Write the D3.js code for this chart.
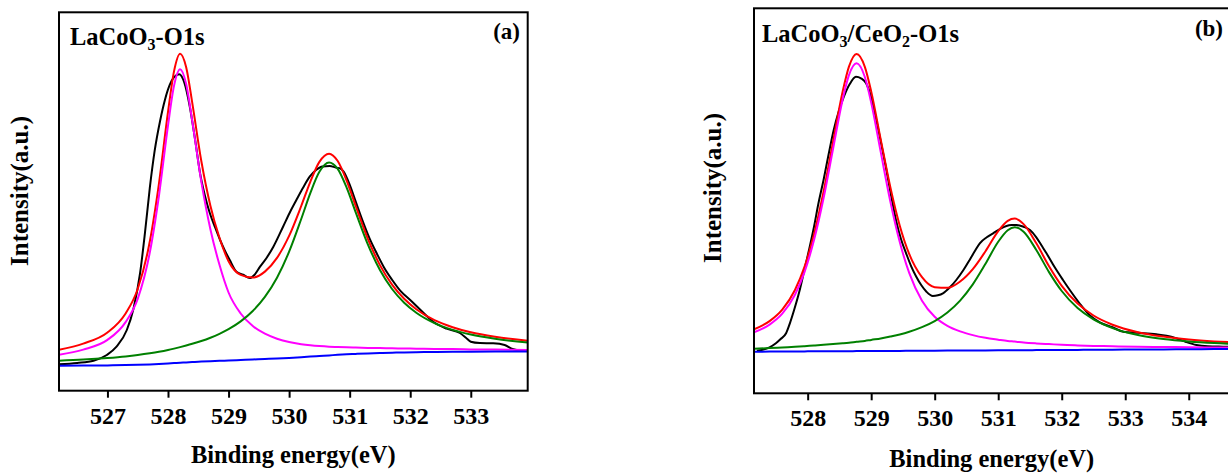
<!DOCTYPE html>
<html>
<head>
<meta charset="utf-8">
<script src="https://cdn.jsdelivr.net/npm/d3@7"></script>
<style>
  body { margin: 0; background: #fff; }
  svg text { font-family: "Liberation Serif", "Times New Roman", serif; font-weight: bold; fill: #000; }
</style>
</head>
<body>
<script>
// ---- panel (a): LaCoO3 O1s ----
const energyA = [526.2, 526.6, 527.0, 527.3, 527.5, 527.7, 527.85, 528.0, 528.1, 528.2, 528.3, 528.4, 528.55, 528.7, 528.85, 529.0, 529.2, 529.4, 529.6, 529.8, 530.0, 530.2, 530.35, 530.5, 530.66, 530.8, 530.95, 531.1, 531.3, 531.5, 531.7, 531.9, 532.1, 532.4, 532.7, 533.0, 533.4, 533.94];
const blueA = [25.0, 25.1, 25.3, 25.6, 25.9, 26.3, 26.7, 27.2, 27.6, 28.0, 28.3, 28.7, 29.1, 29.5, 29.9, 30.2, 30.7, 31.2, 31.7, 32.2, 32.8, 33.5, 34.1, 34.7, 35.3, 35.9, 36.4, 36.8, 37.3, 37.7, 38.0, 38.3, 38.5, 38.7, 38.9, 39.0, 39.1, 39.2];
const magentaA = [36.0, 41.1, 50.8, 68.6, 91.9, 138.3, 194.7, 265.2, 305.1, 321.4, 306.6, 269.9, 209.1, 161.5, 125.9, 98.2, 77.2, 64.6, 57.0, 52.0, 48.6, 46.5, 45.4, 44.6, 44.0, 43.7, 43.4, 43.1, 42.8, 42.6, 42.4, 42.2, 42.0, 41.7, 41.6, 41.3, 41.1, 40.8];
const greenA = [30.0, 31.1, 32.7, 34.3, 35.7, 37.4, 38.9, 40.7, 42.1, 43.6, 45.2, 46.9, 49.7, 53.0, 56.9, 61.5, 69.3, 79.7, 93.8, 113.0, 139.0, 171.7, 197.6, 218.9, 228.3, 222.1, 203.1, 178.4, 146.4, 120.7, 101.7, 88.0, 78.0, 67.6, 60.8, 56.1, 51.9, 48.3];
const redA = [41.0, 47.1, 58.2, 77.3, 101.7, 149.4, 206.9, 278.7, 319.6, 337.0, 323.5, 288.1, 229.7, 185.0, 152.9, 129.5, 115.8, 113.1, 119.1, 132.8, 154.8, 184.7, 208.9, 228.8, 237.0, 229.9, 210.1, 184.7, 151.9, 125.6, 106.1, 91.9, 81.5, 70.6, 63.5, 58.4, 53.9, 49.9];
const rawEnergyA = [526.2, 526.5, 526.77, 526.99, 527.15, 527.32, 527.43, 527.54, 527.62, 527.7, 527.78, 527.87, 527.95, 528.03, 528.1, 528.185, 528.27, 528.36, 528.45, 528.53, 528.61, 528.69, 528.78, 528.86, 528.94, 529.02, 529.13, 529.24, 529.35, 529.43, 529.52, 529.63, 529.74, 529.9, 530.01, 530.12, 530.23, 530.34, 530.45, 530.55, 530.67, 530.78, 530.84, 530.9, 531.0, 531.1, 531.2, 531.33, 531.45, 531.57, 531.7, 531.85, 532.0, 532.2, 532.38, 532.6, 532.82, 532.92, 533.0, 533.15, 533.37, 533.56, 533.69, 533.8, 533.94];
const rawA = [26.4, 27.8, 30.0, 35.7, 44.0, 60.7, 82.0, 118.0, 158.0, 203.0, 240.0, 270.0, 291.0, 306.0, 313.5, 316.4, 308.0, 284.0, 250.0, 217.4, 195.0, 177.7, 163.0, 150.7, 140.0, 130.7, 119.0, 116.0, 112.7, 116.0, 124.0, 133.0, 144.0, 164.0, 178.0, 190.7, 203.0, 214.0, 221.0, 224.3, 224.7, 223.0, 222.5, 219.0, 206.0, 189.0, 172.0, 152.0, 137.0, 123.0, 111.0, 99.0, 90.7, 79.0, 69.0, 62.0, 57.7, 53.0, 49.0, 47.7, 47.4, 45.7, 41.7, 40.3, 39.8];
const ticksA = [527, 528, 529, 530, 531, 532, 533];

// ---- panel (b): LaCoO3/CeO2 O1s ----
const energyB = [527.155, 527.4, 527.6, 527.8, 527.95, 528.1, 528.25, 528.4, 528.55, 528.65, 528.77, 528.9, 529.0, 529.15, 529.3, 529.45, 529.6, 529.8, 530.0, 530.2, 530.4, 530.6, 530.8, 531.0, 531.15, 531.26, 531.4, 531.6, 531.8, 532.0, 532.25, 532.5, 532.8, 533.2, 533.6, 534.0, 534.4, 534.8];
const blueB = [41.6, 41.7, 41.8, 41.8, 41.9, 42.0, 42.0, 42.1, 42.1, 42.1, 42.2, 42.2, 42.3, 42.3, 42.4, 42.4, 42.5, 42.6, 42.6, 42.7, 42.8, 42.9, 42.9, 43.0, 43.0, 43.1, 43.1, 43.2, 43.3, 43.3, 43.4, 43.5, 43.6, 43.8, 43.9, 44.1, 44.2, 44.4];
const magentaB = [61.0, 68.7, 79.6, 98.6, 121.2, 153.2, 195.0, 244.6, 293.6, 318.2, 330.0, 316.3, 290.8, 241.4, 192.3, 151.2, 120.1, 92.6, 76.5, 67.4, 61.9, 58.2, 55.5, 53.6, 52.3, 51.7, 50.8, 49.9, 49.2, 48.5, 47.9, 47.4, 47.0, 46.6, 46.3, 46.1, 45.9, 45.9];
const greenB = [44.6, 45.2, 45.9, 46.5, 47.1, 47.8, 48.5, 49.2, 50.0, 50.6, 51.5, 52.4, 53.4, 54.8, 56.7, 58.8, 61.5, 66.1, 72.2, 80.8, 92.7, 108.9, 129.5, 151.5, 163.1, 166.1, 161.5, 143.3, 121.2, 102.3, 85.2, 73.9, 65.2, 58.3, 54.3, 51.8, 50.2, 49.2];
const redB = [64.0, 72.2, 83.7, 103.3, 126.4, 159.0, 201.5, 251.7, 301.5, 326.7, 339.3, 326.5, 301.9, 253.9, 206.6, 167.6, 139.1, 116.1, 106.1, 105.5, 111.8, 124.2, 142.1, 162.1, 172.4, 174.7, 169.2, 150.0, 127.1, 107.5, 89.7, 77.8, 68.6, 61.1, 56.7, 53.8, 51.9, 50.7];
const rawEnergyB = [527.2, 527.29, 527.4, 527.5, 527.57, 527.66, 527.72, 527.79, 527.87, 527.94, 528.02, 528.1, 528.17, 528.25, 528.33, 528.41, 528.49, 528.57, 528.66, 528.76, 528.84, 528.92, 529.0, 529.07, 529.15, 529.23, 529.31, 529.39, 529.47, 529.55, 529.63, 529.71, 529.79, 529.87, 529.97, 530.05, 530.13, 530.24, 530.34, 530.45, 530.55, 530.63, 530.71, 530.82, 530.92, 531.02, 531.13, 531.21, 531.29, 531.4, 531.5, 531.6, 531.68, 531.76, 531.89, 532.02, 532.13, 532.28, 532.44, 532.6, 532.8, 532.97, 533.2, 533.49, 533.65, 533.8, 533.95, 534.12, 534.3, 534.54, 534.8];
const rawB = [42.6, 43.6, 46.0, 50.0, 54.0, 60.0, 70.0, 84.0, 102.0, 121.0, 143.0, 166.6, 190.0, 213.3, 239.0, 263.3, 282.0, 296.6, 309.0, 316.6, 315.0, 310.0, 296.0, 276.6, 252.0, 226.6, 199.0, 173.3, 154.0, 140.0, 127.0, 116.6, 108.0, 101.6, 97.3, 98.0, 100.0, 106.0, 113.3, 123.0, 133.3, 142.0, 150.0, 156.0, 160.0, 164.0, 167.3, 168.2, 168.3, 166.5, 163.3, 156.0, 148.0, 140.0, 126.0, 113.3, 103.0, 90.0, 78.0, 71.0, 66.0, 61.6, 60.5, 59.0, 57.5, 55.0, 51.5, 48.3, 47.0, 46.6, 46.3];
const ticksB = [528, 529, 530, 531, 532, 533, 534];

const svg = d3.select("body")
  .append("svg")
  .attr("width", 1228)
  .attr("height", 474);

function drawPanel(p) {
  const x = d3.scaleLinear().domain(p.xDomain).range([p.left, p.right]);
  const y = d3.scaleLinear().domain([0, p.yMax]).range([p.bottom, p.top]);
  const g = svg.append("g");

  g.append("clipPath").attr("id", p.id)
    .append("rect")
    .attr("x", p.left).attr("y", p.top)
    .attr("width", p.right - p.left).attr("height", p.bottom - p.top);

  const plot = g.append("g").attr("clip-path", "url(#" + p.id + ")");
  p.series.forEach(s => {
    const line = d3.line()
      .x((d, i) => x(s.xs[i]))
      .y(d => y(d))
      .curve(d3.curveMonotoneX);
    plot.append("path")
      .attr("d", line(s.ys))
      .attr("fill", "none")
      .attr("stroke", s.color)
      .attr("stroke-width", 2);
  });

  // frame
  g.append("rect")
    .attr("x", p.left).attr("y", p.top)
    .attr("width", p.right - p.left).attr("height", p.bottom - p.top)
    .attr("fill", "none").attr("stroke", "#000").attr("stroke-width", 2);

  const ax = g.append("g")
    .attr("transform", "translate(0," + p.bottom + ")")
    .call(d3.axisBottom(x).tickValues(p.ticks).tickSize(7).tickPadding(9).tickFormat(d3.format("d")));
  ax.select(".domain").remove();
  ax.selectAll(".tick line").attr("stroke", "#000").attr("stroke-width", 2);
  ax.selectAll(".tick text")
    .style("font-family", '"Liberation Serif", "Times New Roman", serif')
    .style("font-weight", "bold")
    .style("font-size", "24px")
    .attr("fill", "#000");

  g.append("text")
    .attr("x", p.xTitle[0]).attr("y", p.xTitle[1])
    .attr("text-anchor", "middle")
    .style("font-size", "24.5px")
    .text("Binding energy(eV)");

  g.append("text")
    .attr("transform", "translate(" + p.yTitle[0] + "," + p.yTitle[1] + ") rotate(-90)")
    .attr("text-anchor", "middle")
    .style("font-size", "25px")
    .text("Intensity(a.u.)");

  const t = g.append("text")
    .attr("x", p.label[0]).attr("y", p.label[1])
    .style("font-size", "24.5px");
  p.labelParts.forEach(part => {
    if (part.sub) {
      t.append("tspan").attr("dy", 5).style("font-size", "16px").text(part.text);
    } else {
      t.append("tspan").attr("dy", part.after ? -5 : 0).text(part.text);
    }
  });

  g.append("text")
    .attr("x", p.tag[0]).attr("y", p.tag[1])
    .attr("text-anchor", "end")
    .style("font-size", "23px")
    .text(p.tagText);
}

drawPanel({
  id: "clipA",
  left: 59, right: 527.7, top: 12.3, bottom: 390.7,
  xDomain: [526.2, 533.94], yMax: 378.4, ticks: ticksA,
  series: [
    { xs: rawEnergyA, ys: rawA, color: "#000000" },
    { xs: energyA, ys: redA, color: "#ff0000" },
    { xs: energyA, ys: magentaA, color: "#ff00ff" },
    { xs: energyA, ys: greenA, color: "#008000" },
    { xs: energyA, ys: blueA, color: "#0000ff" }
  ],
  xTitle: [293.3, 463], yTitle: [28, 191],
  label: [70, 45],
  labelParts: [{ text: "LaCoO" }, { text: "3", sub: true }, { text: "-O1s", after: true }],
  tag: [520, 39], tagText: "(a)"
});

drawPanel({
  id: "clipB",
  left: 754, right: 1229.4, top: 8.3, bottom: 393.3,
  xDomain: [527.155, 534.64], yMax: 385, ticks: ticksB,
  series: [
    { xs: rawEnergyB, ys: rawB, color: "#000000" },
    { xs: energyB, ys: redB, color: "#ff0000" },
    { xs: energyB, ys: magentaB, color: "#ff00ff" },
    { xs: energyB, ys: greenB, color: "#008000" },
    { xs: energyB, ys: blueB, color: "#0000ff" }
  ],
  xTitle: [991.7, 467], yTitle: [721, 188],
  label: [762, 41.7],
  labelParts: [{ text: "LaCoO" }, { text: "3", sub: true }, { text: "/CeO", after: true }, { text: "2", sub: true }, { text: "-O1s", after: true }],
  tag: [1223, 36], tagText: "(b)"
});
</script>
</body>
</html>
